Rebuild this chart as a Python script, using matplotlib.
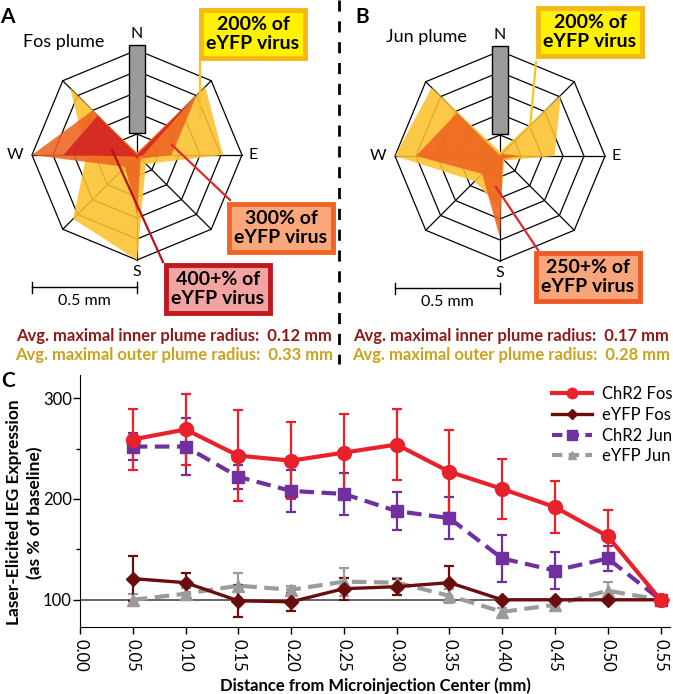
import matplotlib
matplotlib.use("Agg")
import matplotlib.pyplot as plt
from matplotlib.patches import Rectangle
from matplotlib.ticker import MultipleLocator
from matplotlib.lines import Line2D
import numpy as np

plt.rcParams["font.family"] = ["Lato", "DejaVu Sans"]

# ---------------- data ----------------
directions = ["N", "NE", "E", "SE", "S", "SW", "W", "NW"]
dir_angles = np.deg2rad([90, 45, 0, -45, -90, -135, 180, 135])
ring_radii = [0.1, 0.2, 0.3, 0.4, 0.5]  # mm

# plume radii (mm) per direction, N..NW
fos_outer = [0.01, 0.46, 0.41, 0.06, 0.50, 0.43, 0.24, 0.45]
fos_middle = [0.01, 0.40, 0.165, 0.025, 0.28, 0.08, 0.50, 0.30]
fos_inner = [0.0, 0.39, 0.03, 0.01, 0.02, 0.01, 0.35, 0.265]
jun_outer = [0.02, 0.41, 0.26, 0.03, 0.25, 0.17, 0.50, 0.46]
jun_inner = [0.0, 0.015, 0.10, 0.02, 0.39, 0.12, 0.40, 0.29]

distance = [0.05, 0.10, 0.15, 0.20, 0.25, 0.30, 0.35, 0.40, 0.45, 0.50, 0.55]
chr2_fos = [259, 269, 243, 238, 246, 254, 227, 210, 192, 163, 100]
chr2_fos_err = [30, 35, 45, 38, 38, 35, 41, 30, 26, 26, 0]
eyfp_fos = [121, 117, 99, 98, 111, 113, 117, 100, 100, 100, 100]
eyfp_fos_err = [22, 10, 16, 9, 11, 8, 17, 0, 0, 0, 0]
chr2_jun = [252, 252, 222, 208, 205, 188, 181, 141, 129, 141, 100]
chr2_jun_err = [13, 28, 12, 21, 21, 19, 21, 23, 18, 12, 0]
eyfp_jun = [100, 106, 114, 110, 118, 117, 104, 88, 95, 109, 100]
eyfp_jun_err = [6, 6, 13, 4, 14, 5, 7, 4, 3, 9, 0]

W, H = 673, 694
fig = plt.figure(figsize=(W / 100, H / 100), dpi=100)

YELLOW = "#FBC12E"
ORANGE = "#EE6420"
RED = "#D32323"


def radar_axes(cx, cy, px_per_mm=210, xl=(-0.66, 0.66), yl=(-0.76, 0.62)):
    left = cx + xl[0] * px_per_mm
    right = cx + xl[1] * px_per_mm
    top = cy - yl[1] * px_per_mm
    bottom = cy - yl[0] * px_per_mm
    ax = fig.add_axes([left / W, 1 - bottom / H, (right - left) / W, (bottom - top) / H])
    ax.set_xlim(*xl)
    ax.set_ylim(*yl)
    ax.axis("off")
    # octagon grid
    closed = np.append(dir_angles, dir_angles[0])
    for r in ring_radii:
        ax.plot(r * np.cos(closed), r * np.sin(closed), color="black", lw=0.9, zorder=1)
    for a in dir_angles:
        ax.plot([0, 0.5 * np.cos(a)], [0, 0.5 * np.sin(a)], color="black", lw=0.9, zorder=1)
    # north marker bar
    ax.add_patch(Rectangle((-0.038, 0.105), 0.076, 0.42, facecolor="#9B9B9B",
                           edgecolor="black", lw=1, zorder=5))
    # compass labels
    ax.text(0, 0.575, "N", ha="center", va="center", fontsize=11.5)
    ax.text(0.555, 0, "E", ha="center", va="center", fontsize=11.5)
    ax.text(0, -0.555, "S", ha="center", va="center", fontsize=11.5)
    ax.text(-0.58, 0, "W", ha="center", va="center", fontsize=11.5)
    # scale bar
    ax.plot([-0.5, 0], [-0.63, -0.63], color="black", lw=1)
    ax.plot([-0.5, -0.5], [-0.605, -0.655], color="black", lw=1)
    ax.plot([0, 0], [-0.605, -0.655], color="black", lw=1)
    ax.text(-0.25, -0.697, "0.5 mm", ha="center", va="center", fontsize=11.5)
    return ax


def plume(ax, radii, color, z):
    r = np.array(radii)
    ax.fill(r * np.cos(dir_angles), r * np.sin(dir_angles), color=color,
            alpha=0.88, lw=0, zorder=z)


# ---------------- panel A ----------------
axA = radar_axes(137, 155)
plume(axA, fos_outer, YELLOW, 2)
plume(axA, fos_middle, ORANGE, 3)
plume(axA, fos_inner, RED, 4)

# ---------------- panel B ----------------
axB = radar_axes(500, 156)
plume(axB, jun_outer, YELLOW, 2)
plume(axB, jun_inner, ORANGE, 3)

# ---------------- overlay (annotations in pixel coords) ----------------
ov = fig.add_axes([0, 0, 1, 1], zorder=10)
ov.set_xlim(0, W)
ov.set_ylim(H, 0)
ov.axis("off")
ov.patch.set_alpha(0)

ov.plot([339, 339], [0, 364], color="black", lw=2, dashes=(4, 3.5))

ov.text(7, 17, "A", fontsize=15, fontweight="bold", ha="center", va="center")
ov.text(362, 17, "B", fontsize=15, fontweight="bold", ha="center", va="center")
ov.text(8, 381, "C", fontsize=15, fontweight="bold", ha="center", va="center")
ov.text(64, 42, "Fos plume", fontsize=13, ha="center", va="center")
ov.text(426, 37, "Jun plume", fontsize=13, ha="center", va="center")

# leader lines
ov.plot([200, 200], [62, 118], color="#F8C31A", lw=1.6)
ov.plot([172, 230], [145, 200], color="#DA2A2D", lw=1.6)
ov.plot([112, 163], [150, 262], color="#B0151B", lw=1.6)
ov.plot([536, 530], [62, 128], color="#F8C31A", lw=1.6)
ov.plot([496, 538], [187, 250], color="#DA2A2D", lw=1.6)

box_kw = dict(ha="center", va="center", fontsize=14, fontweight="bold", linespacing=1.2)
ov.text(253, 34, "200% of\neYFP virus", **box_kw,
        bbox=dict(boxstyle="square,pad=0.3", fc="#FFF200", ec="#F6B816", lw=3.5))
ov.text(281, 228, "300% of\neYFP virus", **box_kw,
        bbox=dict(boxstyle="square,pad=0.3", fc="#F9A77B", ec="#EE6526", lw=3.5))
ov.text(218, 289, "400+% of\neYFP virus", **box_kw,
        bbox=dict(boxstyle="square,pad=0.3", fc="#F4A3A3", ec="#BF1820", lw=3.5))
ov.text(590, 32, "200% of\neYFP virus", **box_kw,
        bbox=dict(boxstyle="square,pad=0.3", fc="#FFF200", ec="#F6B816", lw=3.5))
ov.text(588, 277, "250+% of\neYFP virus", **box_kw,
        bbox=dict(boxstyle="square,pad=0.3", fc="#F8A57C", ec="#EE5A25", lw=3.5))

sum_kw = dict(ha="center", va="center", fontsize=12, fontweight="bold")
ov.text(174, 336, "Avg. maximal inner plume radius:  0.12 mm", color="#8E1B1B", **sum_kw)
ov.text(174, 355, "Avg. maximal outer plume radius:  0.33 mm", color="#C9A21E", **sum_kw)
ov.text(511, 336, "Avg. maximal inner plume radius:  0.17 mm", color="#8E1B1B", **sum_kw)
ov.text(511, 355, "Avg. maximal outer plume radius:  0.28 mm", color="#C9A21E", **sum_kw)

# ---------------- panel C ----------------
ax = fig.add_axes([80 / W, 1 - 627 / H, 590 / W, 252 / H])
ax.axhline(100, color="#3A3A3A", lw=1.1, zorder=1)

series = [
    (eyfp_jun, eyfp_jun_err, "#9B9B9B", "^", 8.5, (3.5, 1.8), 3.0, "eYFP Jun"),
    (chr2_jun, chr2_jun_err, "#7030A0", "s", 9, (3.5, 1.8), 3.0, "ChR2 Jun"),
    (eyfp_fos, eyfp_fos_err, "#6A0D0D", "D", 7, None, 2.4, "eYFP Fos"),
    (chr2_fos, chr2_fos_err, "#E8212B", "o", 10, None, 3.0, "ChR2 Fos"),
]
handles = {}
for vals, errs, color, marker, ms, dashes, lw, label in series:
    eb = ax.errorbar(distance, vals, yerr=errs, color=color, marker=marker, ms=ms,
                     lw=lw, elinewidth=1.6, capsize=3.5, capthick=1.6, label=label)
    if dashes:
        eb.lines[0].set_dashes(dashes)
    handles[label] = eb.lines[0]

order = ["ChR2 Fos", "eYFP Fos", "ChR2 Jun", "eYFP Jun"]
leg_handles = []
for name in order:
    h = handles[name]
    lh = Line2D([], [], color=h.get_color(), lw=h.get_linewidth(), marker=h.get_marker(),
                ms=h.get_markersize() * 0.75)
    if name.endswith("Jun"):
        lh.set_dashes((2.5, 1.5))
    leg_handles.append(lh)
ax.legend(leg_handles, order, loc="upper right", bbox_to_anchor=(1.03, 1.015),
          frameon=False, fontsize=12, handlelength=2.4, labelspacing=0.28,
          handletextpad=0.6)

ax.set_xlim(0, 0.559)
ax.set_ylim(73, 323)
ax.set_xticks(np.arange(0, 0.551, 0.05))
ax.set_xticklabels([f"{t:.2f}" for t in np.arange(0, 0.551, 0.05)], rotation=-90)
ax.set_yticks([100, 200, 300])
ax.yaxis.set_minor_locator(MultipleLocator(50))
ax.tick_params(axis="both", which="major", labelsize=12, length=5, width=1)
ax.tick_params(axis="y", which="minor", length=3, width=1)
ax.tick_params(axis="y", pad=1)
ax.spines["top"].set_visible(False)
ax.spines["right"].set_visible(False)
ax.set_xlabel("Distance from Microinjection Center (mm)", fontsize=12, fontweight="bold")
ax.xaxis.set_label_coords(0.5, -0.2)
ax.set_ylabel("Laser-Elicited IEG Expression\n(as % of baseline)", fontsize=12.5,
              fontweight="bold", linespacing=1.35)
ax.yaxis.set_label_coords(-0.062, 0.455)

fig.savefig("out.png", dpi=100)
